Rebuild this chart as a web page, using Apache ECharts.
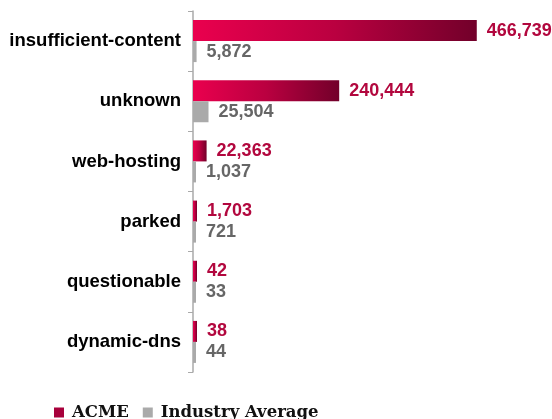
<!DOCTYPE html>
<html>
<head>
<meta charset="utf-8">
<style>
  html, body { margin: 0; padding: 0; background: #fff; }
  #chart { width: 552px; height: 419px; }
</style>
<script src="https://cdn.jsdelivr.net/npm/echarts@6/dist/echarts.min.js"></script>
</head>
<body>
<div id="chart"></div>
<script>
// Hosting categories, top to bottom
const categories = ['insufficient-content', 'unknown', 'web-hosting', 'parked', 'questionable', 'dynamic-dns'];
// Domain counts per category
const acmeValues = [466739, 240444, 22363, 1703, 42, 38];
const industryValues = [5872, 25504, 1037, 721, 33, 44];
const seriesNames = ['ACME', 'Industry Average'];

const chart = echarts.init(document.getElementById('chart'));

const fmt = p => p.value.toLocaleString('en-US');
const labelFont = { fontFamily: 'Liberation Sans, Arial, sans-serif', fontWeight: 'bold', fontSize: 18 };

chart.setOption({
  animation: false,
  grid: { left: 193, top: 11, bottom: 47, right: 55, containLabel: false },
  legend: {
    data: [
      { name: seriesNames[0], itemStyle: { color: '#A8003B' } },
      { name: seriesNames[1], itemStyle: { color: '#AAAAAA' } }
    ],
    left: 54,
    top: 404,
    padding: 0,
    itemWidth: 10,
    itemHeight: 10,
    itemGap: 14,
    icon: 'rect',
    textStyle: { fontFamily: 'DejaVu Serif', fontWeight: 'bold', fontSize: 16.5, color: '#111', padding: [0, 0, 0, 3] }
  },
  xAxis: {
    type: 'value',
    min: 0,
    max: 500000,
    show: false,
    splitLine: { show: false }
  },
  yAxis: {
    type: 'category',
    data: categories,
    inverse: true,
    axisLine: { show: true, lineStyle: { color: '#AAAAAA', width: 1.5 } },
    axisTick: { show: true, length: 5, lineStyle: { color: '#AAAAAA', width: 1 } },
    axisLabel: { margin: 12, color: '#000', ...labelFont, fontSize: 18.5 }
  },
  series: [
    {
      name: seriesNames[0],
      type: 'bar',
      data: acmeValues,
      barWidth: 21,
      barGap: '0%',
      barMinHeight: 4,
      itemStyle: {
        color: new echarts.graphic.LinearGradient(0, 0, 1, 0, [
          { offset: 0, color: '#EA004E' },
          { offset: 0.5, color: '#BA0040' },
          { offset: 1, color: '#72002A' }
        ])
      },
      label: {
        show: true,
        position: 'right',
        distance: 10,
        color: '#B2073E',
        formatter: fmt,
        ...labelFont
      }
    },
    {
      name: seriesNames[1],
      type: 'bar',
      data: industryValues,
      barWidth: 21,
      barMinHeight: 3,
      itemStyle: { color: '#AAAAAA' },
      label: {
        show: true,
        position: 'right',
        distance: 10,
        color: '#666666',
        formatter: fmt,
        ...labelFont
      }
    }
  ]
});
</script>
</body>
</html>
